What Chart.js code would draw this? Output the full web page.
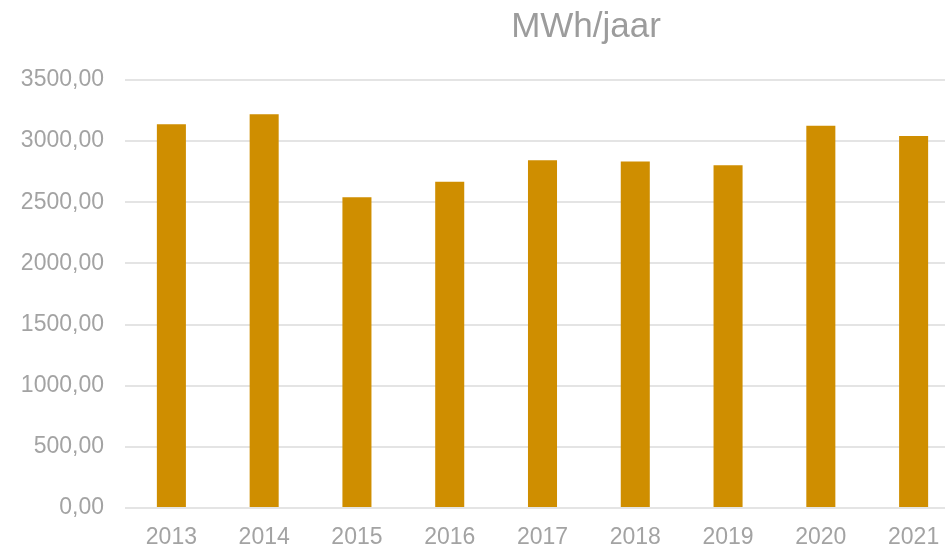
<!DOCTYPE html>
<html>
<head>
<meta charset="utf-8">
<script src="https://cdn.jsdelivr.net/npm/chart.js@4.4.1/dist/chart.umd.min.js"></script>
<style>
  html, body { margin: 0; padding: 0; background: #ffffff; overflow: hidden; }
  #wrap { width: 960px; height: 547px; position: relative; }
</style>
</head>
<body>
<div id="wrap"><canvas id="c" width="960" height="547"></canvas></div>
<script>
const categories = ['2013', '2014', '2015', '2016', '2017', '2018', '2019', '2020', '2021'];
const energyMWh = [3138, 3219, 2542, 2668, 2844, 2834, 2803, 3125, 3043];
const chartTitle = 'MWh/jaar';
const yMin = 0, yMax = 3500, yStep = 500;

const titlePlugin = {
  id: 'offsetTitle',
  afterDraw(chart) {
    const ctx = chart.ctx;
    ctx.save();
    ctx.font = '35px "Liberation Sans", Arial, sans-serif';
    ctx.fillStyle = '#9c9c9c';
    ctx.textAlign = 'center';
    ctx.textBaseline = 'alphabetic';
    ctx.fillText(chartTitle, 586, 37);
    ctx.restore();
  }
};

new Chart(document.getElementById('c'), {
  type: 'bar',
  data: {
    labels: categories,
    datasets: [{
      label: chartTitle,
      data: energyMWh,
      backgroundColor: '#CF8E00',
      borderWidth: 0,
      categoryPercentage: 1.0,
      barPercentage: 0.313
    }]
  },
  options: {
    responsive: false,
    devicePixelRatio: 1,
    animation: false,
    layout: { padding: { top: 80, right: 0, bottom: 0, left: 0 } },
    plugins: {
      legend: { display: false },
      title: { display: false },
      tooltip: { enabled: false }
    },
    scales: {
      x: {
        grid: { display: false, drawTicks: false },
        border: { display: false },
        ticks: {
          color: '#a3a3a3',
          font: { family: '"Liberation Sans", Arial, sans-serif', size: 23 },
          padding: 16,
          maxRotation: 0
        },
        afterFit(scale) { scale.height = 39; }
      },
      y: {
        min: yMin,
        max: yMax,
        grid: { color: '#e4e4e4', lineWidth: 2, drawTicks: false },
        border: { display: false },
        ticks: {
          stepSize: yStep,
          color: '#a3a3a3',
          font: { family: '"Liberation Sans", Arial, sans-serif', size: 23 },
          padding: 21,
          callback: v => v.toFixed(2).replace('.', ',')
        },
        afterFit(scale) { scale.width = 125; }
      }
    }
  },
  plugins: [titlePlugin]
});
</script>
</body>
</html>
